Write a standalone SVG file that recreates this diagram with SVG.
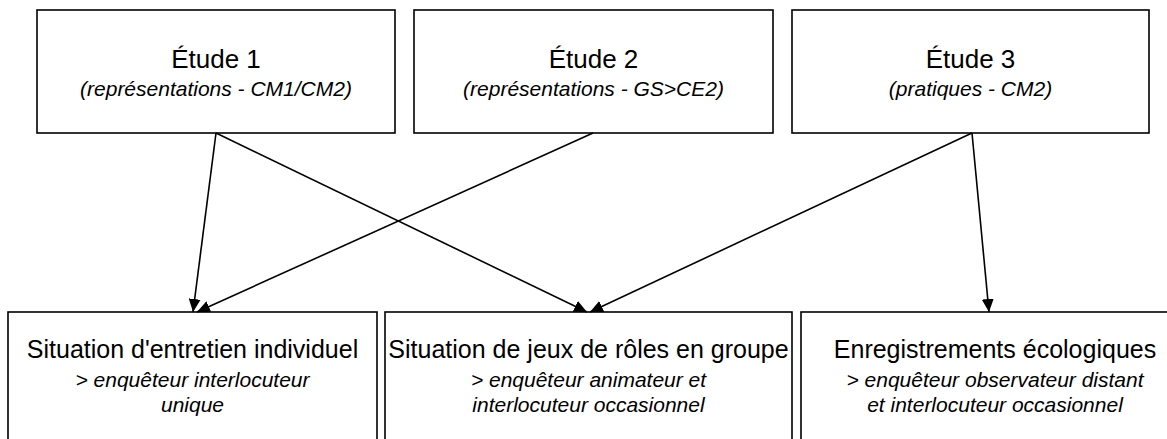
<svg xmlns="http://www.w3.org/2000/svg" width="1167" height="439" viewBox="0 0 1167 439">
<style>
.box{fill:#fff;stroke:#000;stroke-width:1.6}
.t{font-family:"Liberation Sans",Arial,sans-serif;font-size:26px;fill:#000;text-anchor:middle}
.b{font-family:"Liberation Sans",Arial,sans-serif;font-size:25px;fill:#000;text-anchor:middle}
.s{font-family:"Liberation Sans",Arial,sans-serif;font-size:21px;font-style:italic;fill:#000;text-anchor:middle}
.c{stroke:#000;stroke-width:1.6;fill:none;marker-end:url(#ah)}
</style>
<defs>
<marker id="ah" markerUnits="userSpaceOnUse" markerWidth="14" markerHeight="12" refX="13" refY="6" orient="auto">
<path d="M0,0 L13,6 L0,12 z" fill="#000"/>
</marker>
</defs>
<rect width="1167" height="439" fill="#fff"/>
<g id="etude1">
<rect class="box" x="37" y="10" width="358" height="123"/>
<text class="t" x="216" y="68">Étude 1</text>
<text class="s" x="216" y="96">(représentations - CM1/CM2)</text>
</g>
<g id="etude2">
<rect class="box" x="414" y="10" width="359" height="123"/>
<text class="t" x="593.5" y="68">Étude 2</text>
<text class="s" x="593.5" y="96">(représentations - GS&gt;CE2)</text>
</g>
<g id="etude3">
<rect class="box" x="792" y="10" width="357" height="123"/>
<text class="t" x="970.5" y="68">Étude 3</text>
<text class="s" x="970.5" y="96">(pratiques - CM2)</text>
</g>
<g id="entretien">
<rect class="box" x="8" y="312" width="369" height="140"/>
<text class="b" x="192.5" y="358">Situation d'entretien individuel</text>
<text class="s" x="192.5" y="387">&gt; enquêteur interlocuteur</text>
<text class="s" x="192.5" y="412">unique</text>
</g>
<g id="jeux">
<rect class="box" x="385" y="312" width="407" height="140"/>
<text class="b" x="588.5" y="358">Situation de jeux de rôles en groupe</text>
<text class="s" x="588.5" y="387">&gt; enquêteur animateur et</text>
<text class="s" x="588.5" y="412">interlocuteur occasionnel</text>
</g>
<g id="enregistrements">
<rect class="box" x="801" y="312" width="390" height="140"/>
<text class="b" x="995" y="358">Enregistrements écologiques</text>
<text class="s" x="995" y="387">&gt; enquêteur observateur distant</text>
<text class="s" x="995" y="412">et interlocuteur occasionnel</text>
</g>
<g id="connectors">
<line class="c" x1="216" y1="133" x2="193" y2="312"/>
<line class="c" x1="216" y1="133" x2="587" y2="312"/>
<line class="c" x1="593" y1="133" x2="197" y2="312"/>
<line class="c" x1="972" y1="133" x2="590" y2="312"/>
<line class="c" x1="972" y1="133" x2="989" y2="312"/>
</g>
</svg>
